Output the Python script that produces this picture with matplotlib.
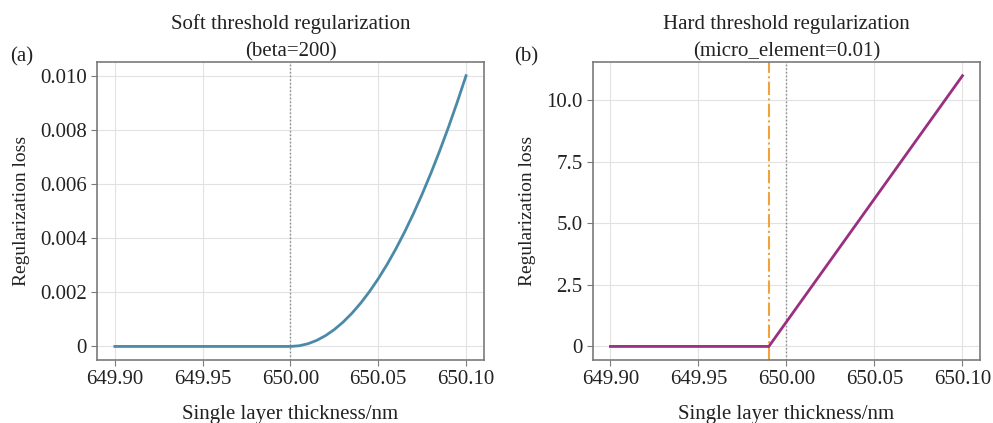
import matplotlib.pyplot as plt
from matplotlib.ticker import FuncFormatter, MultipleLocator

plt.rcParams['font.family'] = ['Liberation Serif', 'DejaVu Serif']

# soft threshold curve
soft_x = [649.90, 649.95, 650.00, 650.005, 650.01, 650.015, 650.02, 650.025, 650.03,
          650.035, 650.04, 650.045, 650.05, 650.055, 650.06, 650.065, 650.07,
          650.075, 650.08, 650.085, 650.09, 650.095, 650.10]
soft_y = [0.0, 0.0, 0.0, 0.000025, 0.0001, 0.000225, 0.0004, 0.000625, 0.0009,
          0.001225, 0.0016, 0.002025, 0.0025, 0.003025, 0.0036, 0.004225, 0.0049,
          0.005625, 0.0064, 0.007225, 0.0081, 0.009025, 0.0100]

# hard threshold curve
hard_x = [649.90, 649.99, 650.10]
hard_y = [0.0, 0.0, 11.0]

target = 650.00
threshold = 649.99
xticks = [649.90, 649.95, 650.00, 650.05, 650.10]

fig = plt.figure(figsize=(9.93, 4.23), dpi=100)
ax1 = fig.add_axes([0.098, 0.149, 0.389, 0.704])
ax2 = fig.add_axes([0.597, 0.149, 0.390, 0.704])

spine_col = '#7a7a7a'
for ax in (ax1, ax2):
    ax.grid(True, color='#e2e2e2', linewidth=0.8)
    ax.set_axisbelow(True)
    for s in ax.spines.values():
        s.set_color(spine_col)
        s.set_linewidth(1.2)
    ax.tick_params(colors=spine_col, labelcolor='#222222', labelsize=15, length=4)
    ax.set_xticks(xticks, [f'{v:.2f}' for v in xticks])
    ax.set_xlabel('Single layer thickness/nm', fontsize=15, labelpad=11, color='#222222')
    ax.set_ylabel('Regularization loss', fontsize=14, color='#222222', labelpad=7)
    ax.axvline(target, color='#888888', linestyle=':', linewidth=1.0, zorder=1)

ax1.plot(soft_x, soft_y, color='#4a8aa8', linewidth=2)
ax1.yaxis.set_major_locator(MultipleLocator(0.002))
ax1.yaxis.set_major_formatter(FuncFormatter(lambda v, p: '0' if abs(v) < 1e-12 else f'{v:.3f}'))
ax1.set_title('Soft threshold regularization\n(beta=200)', fontsize=15, pad=4,
              linespacing=1.6, color='#222222')

ax2.plot(hard_x, hard_y, color='#9a2f80', linewidth=2, zorder=3)
ax2.axvline(threshold, color='#f0a23c', linestyle='-.', linewidth=1.5, zorder=2)
ax2.yaxis.set_major_locator(MultipleLocator(2.5))
ax2.yaxis.set_major_formatter(FuncFormatter(lambda v, p: '0' if abs(v) < 1e-12 else f'{v:.1f}'))
ax2.set_title('Hard threshold regularization\n(micro_element=0.01)', fontsize=15, pad=4,
              linespacing=1.6, color='#222222')

fig.text(0.010, 0.855, '(a)', fontsize=15, color='#222222')
fig.text(0.518, 0.855, '(b)', fontsize=15, color='#222222')

fig.savefig('out.png', dpi=100)
